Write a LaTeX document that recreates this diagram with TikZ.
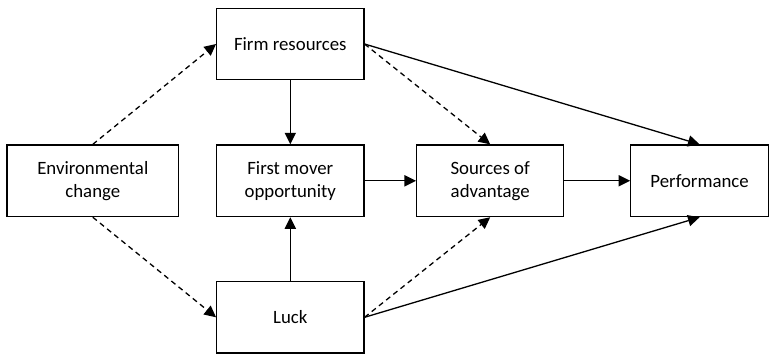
\documentclass[tikz,border=0pt]{standalone}
\usepackage{fontspec}
\setmainfont{Carlito}
\usetikzlibrary{arrows.meta}

\begin{document}
\begin{tikzpicture}[
				x=0.5pt,
				y=-0.5pt,
				line cap=butt,
				line join=miter,
				every node/.style={font=\fontsize{9.4}{11.5}\selectfont},
				box/.style={draw, line width=0.65pt, align=center, minimum width=73.6pt, minimum height=35.8pt, inner sep=0pt},
				link/.style={line width=0.65pt, -{Triangle[length=5.8pt,width=5.6pt]}},
				guess/.style={link, dash pattern=on 2.6pt off 2pt}
				]
				\useasboundingbox (0,0) rectangle (769,353);
				
				% Boxes
				\node[box, minimum width=85.8pt] (env) at (92.8,180.8) {Environmental\\change};
				\node[box] (firm) at (290.3,44) {Firm resources};
				\node[box] (first) at (290.3,180.8) {First mover\\opportunity};
				\node[box] (luck) at (290.3,317.3) {Luck};
				\node[box] (src) at (490.2,180.8) {Sources of\\advantage};
				\node[box, minimum width=68.8pt] (perf) at (699.6,180.8) {Performance};
				
				% Dashed links
				\draw[guess] (env.north) -- (firm.west);
				\draw[guess] (env.south) -- (luck.west);
				\draw[guess] (firm.east) -- (src.north);
				\draw[guess] (luck.east) -- (src.south);
				
				% Solid links
				\draw[link] (firm) -- (first);
				\draw[link] (luck) -- (first);
				\draw[link] (first) -- (src);
				\draw[link] (src) -- (perf);
				\draw[link] (firm.east) -- (perf.north);
				\draw[link] (luck.east) -- (perf.south);
			\end{tikzpicture}
\end{document}
